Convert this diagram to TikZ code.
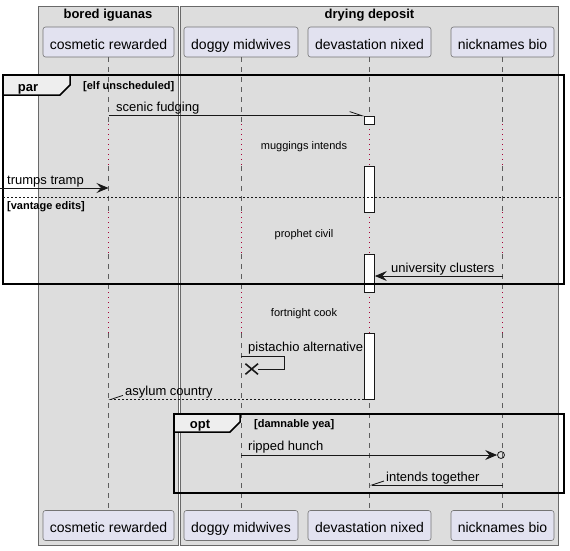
\documentclass[tikz,border=0pt]{standalone}
\usepackage{fontspec}
\setmainfont{Liberation Sans}
\usetikzlibrary{arrows.meta,shapes.misc}
\definecolor{actorfill}{HTML}{E2E2F0}
\definecolor{groupfill}{HTML}{DDDDDD}
\definecolor{tabfill}{HTML}{EEEEEE}
\definecolor{delayred}{HTML}{A80036}
\definecolor{ink}{HTML}{181818}
\tikzset{
    actor/.style={draw=ink!60, fill=actorfill, rounded corners=2.5pt, line width=0.6pt,
        minimum height=30pt, text height=15pt, text depth=1pt, inner sep=0pt,
        font=\fontsize{14}{16}\selectfont},
    grp/.style={draw=ink!65, fill=groupfill, line width=0.7pt},
    grptitle/.style={anchor=base, inner sep=0pt, font=\bfseries\fontsize{13}{15}\selectfont},
    life/.style={ink!70, line width=0.6pt, dash pattern=on 5pt off 5pt},
    delay/.style={delayred, line width=0.8pt, dash pattern=on 0.8pt off 4.2pt},
    act/.style={draw=ink, fill=white, line width=0.8pt, minimum width=10pt, inner sep=0pt},
    msg/.style={ink, line width=0.8pt},
    full/.style={-{Stealth[length=12pt, width=10pt, inset=4.5pt]}},
    half/.style={-{Straight Barb[harpoon, length=12pt, width=8pt]}},
    halfup/.style={-{Straight Barb[harpoon, swap, length=12pt, width=8pt]}},
    msglabel/.style={anchor=base west, inner sep=0pt, font=\fontsize{13}{15}\selectfont},
    delaytext/.style={anchor=base, inner sep=0pt, font=\fontsize{11}{13}\selectfont},
    frame/.style={black, line width=1.5pt},
    framename/.style={anchor=base, inner sep=0pt, font=\bfseries\fontsize{13}{15}\selectfont},
    guard/.style={anchor=base west, inner sep=0pt, font=\bfseries\fontsize{11}{13}\selectfont},
}
\begin{document}
\begin{tikzpicture}[x=1pt, y=-1pt]
        \useasboundingbox (0,0) rectangle (570,551);
        \draw [grp] (38,6) rectangle (178,545);
        \draw [grp] (180,6) rectangle (558,545);
        \node [grptitle] (iguanas) at (108,19) {bored iguanas};
        \node [grptitle] (deposit) at (369.5,19) {drying deposit};
        \node [actor, minimum width=131pt] (cosmetic) at (108.5,42) {cosmetic rewarded};
        \node [actor, minimum width=114pt] (doggy) at (241,42) {doggy midwives};
        \node [actor, minimum width=123pt] (devastation) at (369.5,42) {devastation nixed};
        \node [actor, minimum width=103pt] (nicknames) at (502.5,42) {nicknames bio};
        \node [actor, minimum width=131pt] (cosmetic-end) at (108.5,525.5) {cosmetic rewarded};
        \node [actor, minimum width=114pt] (doggy-end) at (241,525.5) {doggy midwives};
        \node [actor, minimum width=123pt] (devastation-end) at (369.5,525.5) {devastation nixed};
        \node [actor, minimum width=103pt] (nicknames-end) at (502.5,525.5) {nicknames bio};
        \coordinate (wait1) at (0,124);
        \coordinate (go1) at (0,166);
        \coordinate (wait2) at (0,212);
        \coordinate (go2) at (0,254);
        \coordinate (wait3) at (0,292);
        \coordinate (go3) at (0,333);
        \foreach \p in {cosmetic,doggy,devastation,nicknames} {
            \draw [life] (\p.south) -- (\p |- wait1);
            \draw [delay] (\p |- wait1) -- (\p |- go1);
            \draw [life] (\p |- go1) -- (\p |- wait2);
            \draw [delay] (\p |- wait2) -- (\p |- go2);
            \draw [life] (\p |- go2) -- (\p |- wait3);
            \draw [delay] (\p |- wait3) -- (\p |- go3);
            \draw [life] (\p |- go3) -- (\p-end.north);
        }
        \node [act, minimum height=8pt] (run1) at (369.5,120) {};
        \node [act, minimum height=46pt] (run2) at (369.5,189) {};
        \node [act, minimum height=38pt] (run3) at (369.5,273) {};
        \node [act, minimum height=66pt] (run4) at (369.5,366) {};
        % par block
        \draw [frame] (3,75) rectangle (564,284);
        \draw [frame, fill=tabfill] (3,75) -- (70,75) -- (70,85) -- (60,95) -- (3,95) -- cycle;
        \node [framename] (par) at (28,92) {par};
        \node [guard] (unscheduled) at (83,89) {[elf unscheduled]};
        \draw [ink, line width=0.8pt, dash pattern=on 2pt off 2pt] (3,197) -- (564,197);
        \node [guard] (vantage) at (7,209) {[vantage edits]};
        \draw [msg, half] (cosmetic |- run1.north west) -- (run1.north west);
        \node [msglabel] (fudging) at (116,111) {scenic fudging};
        \node [delaytext] (muggings) at (304,149) {muggings intends};
        \coordinate (outside) at (0,188);
        \draw [msg, full] (outside) -- (cosmetic |- outside);
        \node [msglabel] (tramp) at (7,184) {trumps tramp};
        \node [delaytext] (prophet) at (304,237) {prophet civil};
        \coordinate (clusters) at (0,276);
        \draw [msg, full] (nicknames |- clusters) -- (run3.east |- clusters);
        \node [msglabel] (university) at (391,272) {university clusters};
        \node [delaytext] (fortnight) at (304,316) {fortnight cook};
        \coordinate (selfcall) at (0,356);
        \node [draw=ink, cross out, line width=1.6pt, minimum width=11pt, minimum height=9pt, inner sep=0pt] (lost) at (251.7,369) {};
        \draw [msg] (doggy |- selfcall) -- ++(43,0) |- (lost.east);
        \node [msglabel] (pistachio) at (248,351) {pistachio alternative};
        \draw [msg, halfup, dash pattern=on 2pt off 2pt] (run4.south west) -- (cosmetic |- run4.south west);
        \node [msglabel] (asylum) at (125,395) {asylum country};
        % opt block
        \draw [frame] (174,414) rectangle (564,493);
        \draw [frame, fill=tabfill] (174,414) -- (240,414) -- (240,422) -- (230,432) -- (174,432) -- cycle;
        \node [framename] (opt) at (200,428) {opt};
        \node [guard] (damnable) at (254,427) {[damnable yea]};
        \coordinate (hunch) at (0,455);
        \node [draw=ink, circle, line width=0.8pt, minimum size=7pt, inner sep=0pt] (ring) at (501,455) {};
        \draw [msg, full] (doggy |- hunch) -- (ring.west);
        \node [msglabel] (ripped) at (248,450) {ripped hunch};
        \coordinate (together) at (0,485);
        \draw [msg, halfup] (nicknames |- together) -- (devastation |- together);
        \node [msglabel] (intends) at (386,481) {intends together};
        %\node [guard] at (7,230) {[else]};
\end{tikzpicture}
\end{document}
